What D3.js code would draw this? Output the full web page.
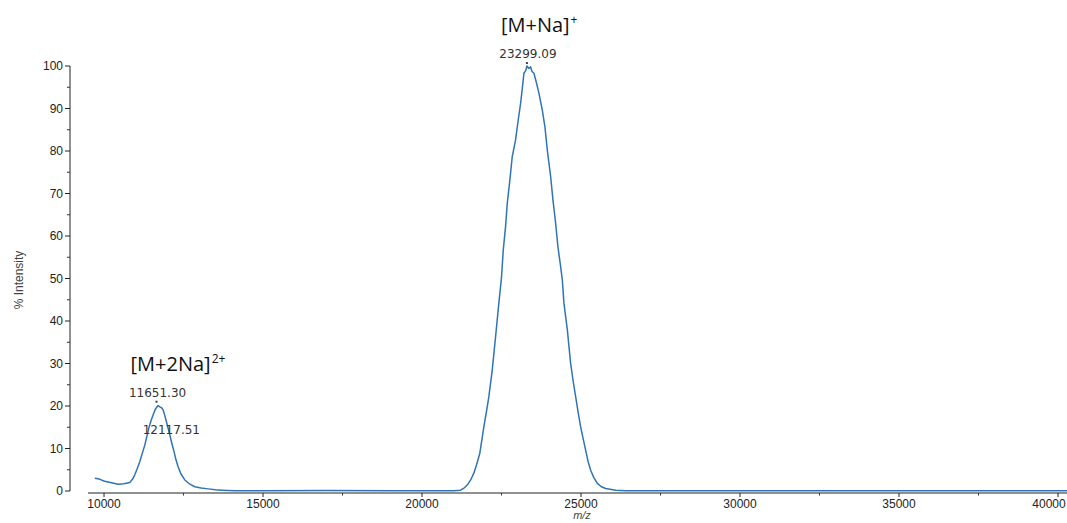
<!DOCTYPE html>
<html lang="en">
<head>
<meta charset="utf-8">
<title>MALDI spectrum</title>
<script src="https://cdn.jsdelivr.net/npm/d3@7"></script>
<style>
  body { margin: 0; background: #fff; }
  svg { display: block; }
</style>
</head>
<body>
<script>

// spectrum (m/z, % intensity)
var mzValues = [9710, 9850, 10020, 10200, 10440, 10620, 10810, 10900, 10967, 11040,
  11124, 11200, 11282, 11408, 11480, 11543, 11600, 11647, 11700, 11754,
  11810, 11858, 11910, 11962, 12069, 12130, 12204, 12260, 12330, 12420,
  12541, 12700, 12856, 13050, 13275, 13500, 13694, 14116, 15000, 17000,
  19000, 20500, 21000, 21211, 21320, 21422, 21530, 21629, 21720, 21818,
  21944, 22020, 22102, 22209, 22313, 22416, 22501, 22555, 22627, 22681,
  22763, 22838, 22942, 23020, 23100, 23150, 23204, 23260, 23299, 23361,
  23415, 23460, 23519, 23600, 23676, 23783, 23865, 23940, 24045, 24117,
  24202, 24274, 24359, 24413, 24463, 24570, 24674, 24750, 24831, 24910,
  24989, 25070, 25146, 25220, 25303, 25400, 25514, 25640, 25776, 26091,
  26406, 28000, 30000, 32000, 35000, 38000, 40283]
var intensityValues = [3.0, 2.8, 2.3, 2.0, 1.6, 1.7, 2.0, 2.8, 3.8, 5.2,
  6.9, 8.8, 10.8, 14.8, 16.6, 17.9, 19.0, 19.6, 20.1, 19.8,
  19.6, 19.1, 17.8, 16.3, 13.2, 11.3, 9.2, 7.4, 5.7, 4.0,
  2.6, 1.6, 1.0, 0.7, 0.5, 0.3, 0.2, 0.05, 0.05, 0.1,
  0.05, 0.05, 0.05, 0.2, 0.7, 1.4, 2.6, 4.2, 6.3, 8.9,
  15.1, 18.4, 22.2, 28.5, 36.3, 44.2, 50.4, 56.7, 62.2, 67.7,
  73.2, 78.7, 82.6, 87.0, 91.2, 94.5, 98.3, 98.9, 100, 99.4,
  99.8, 98.7, 98.3, 96.0, 93.6, 89.6, 85.7, 80.2, 74.0, 68.5,
  63.0, 57.5, 52.8, 49.6, 44.2, 37.9, 30.0, 26.0, 22.2, 18.5,
  15.1, 12.2, 9.6, 7.0, 4.9, 3.2, 1.8, 1.0, 0.6, 0.2,
  0.05, 0.05, 0.05, 0.05, 0.05, 0.05, 0.05]

// peak picks (labels with a marker) and the extra label on the small peak
var peakMz = [23299.09, 11651.30]
var peakIntensity = [100, 20.3]
var extraMz = [12117.51]
var extraIntensity = [12.5]

// ion assignments
var ionText = ["[M+Na]", "[M+2Na]"]
var ionCharge = ["+", "2+"]
var ionMz = [23299.09, 11651.30]

var yTicks = [0, 10, 20, 30, 40, 50, 60, 70, 80, 90, 100]
var xTicks = [10000, 15000, 20000, 25000, 30000, 35000, 40000]

var width = 1067, height = 523

var svg = d3.select("body").append("svg")
  .attr("width", width)
  .attr("height", height)

var x = d3.scaleLinear().domain([9496, 40283]).range([88, 1067])
var y = d3.scaleLinear().domain([0, 100]).range([491, 66])

var axisFont = "'Liberation Sans', Arial, sans-serif"

// y axis, sits left of the x axis start
var yAxisX = 70
var yg = svg.append("g").attr("transform", "translate(" + yAxisX + ",0)")
yg.append("line").attr("y1", y(100)).attr("y2", y(0)).attr("stroke", "#222")
yg.selectAll(".minor").data(d3.range(5, 100, 10)).enter().append("line")
  .attr("x1", -3).attr("x2", 0)
  .attr("y1", function(d){ return y(d) }).attr("y2", function(d){ return y(d) })
  .attr("stroke", "#333")
yg.selectAll(".major").data(yTicks).enter().append("line")
  .attr("x1", -5).attr("x2", 0)
  .attr("y1", function(d){ return y(d) }).attr("y2", function(d){ return y(d) })
  .attr("stroke", "#222")
yg.selectAll("text").data(yTicks).enter().append("text")
  .attr("x", -7).attr("y", function(d){ return y(d) + 4 })
  .attr("text-anchor", "end")
  .attr("font-family", axisFont).attr("font-size", 12).attr("fill", "#222")
  .text(function(d){ return d })

svg.append("text")
  .attr("transform", "translate(23,280) rotate(-90)")
  .attr("text-anchor", "middle")
  .attr("font-family", axisFont).attr("font-size", 12).attr("fill", "#444")
  .text("% Intensity")

// x axis
var xAxisY = 493
var xg = svg.append("g").attr("transform", "translate(0," + xAxisY + ")")
xg.append("line").attr("x1", 88).attr("x2", 1067).attr("stroke", "#222")
xg.selectAll(".minor").data(d3.range(12500, 40283, 5000)).enter().append("line")
  .attr("x1", function(d){ return x(d) }).attr("x2", function(d){ return x(d) })
  .attr("y1", 0).attr("y2", 2.5).attr("stroke", "#333")
xg.selectAll(".major").data(xTicks).enter().append("line")
  .attr("x1", function(d){ return x(d) }).attr("x2", function(d){ return x(d) })
  .attr("y1", 0).attr("y2", 4).attr("stroke", "#222")
xg.selectAll("text").data(xTicks).enter().append("text")
  .attr("x", function(d){ return Math.min(x(d), width - 18) }).attr("y", 15)
  .attr("text-anchor", "middle")
  .attr("font-family", axisFont).attr("font-size", 12).attr("fill", "#222")
  .text(function(d){ return d })

svg.append("text")
  .attr("x", 582).attr("y", 519)
  .attr("text-anchor", "middle")
  .attr("font-family", axisFont).attr("font-size", 11).attr("font-style", "italic").attr("fill", "#444")
  .text("m/z")

// the trace
var points = mzValues.map(function(m, i){ return [m, intensityValues[i]] })
var line = d3.line()
  .x(function(d){ return x(d[0]) })
  .y(function(d){ return y(d[1]) })

svg.append("path").datum(points)
  .attr("fill", "none")
  .attr("stroke", "#2f74b7")
  .attr("stroke-width", 1.5)
  .attr("stroke-linejoin", "round")
  .attr("d", line)

// peak markers and labels
var labelFont = "'DejaVu Sans', sans-serif"
peakMz.forEach(function(m, i){
  var py = y(peakIntensity[i]) - 3
  svg.append("rect").attr("x", x(m) - 1).attr("y", py - 1).attr("width", 2).attr("height", 2).attr("fill", "#444")
  svg.append("text")
    .attr("x", x(m) + 1).attr("y", py - 5)
    .attr("text-anchor", "middle")
    .attr("font-family", labelFont).attr("font-size", 12).attr("fill", "#333")
    .text(d3.format(".2f")(m))
})
extraMz.forEach(function(m, i){
  svg.append("text")
    .attr("x", x(m)).attr("y", y(extraIntensity[i]) - 4)
    .attr("text-anchor", "middle")
    .attr("font-family", labelFont).attr("font-size", 12).attr("fill", "#333")
    .text(d3.format(".2f")(m))
})

// ion labels above the peak labels
var ionFont = "'Open Sans', 'Noto Sans', sans-serif"
ionMz.forEach(function(m, i){
  var ty = y(peakIntensity[i]) - 34
  var t = svg.append("text")
    .attr("x", x(m) - 26).attr("y", ty)
    .attr("font-family", ionFont).attr("font-size", 20).attr("fill", "#111")
  t.append("tspan").text(ionText[i])
  t.append("tspan").attr("dy", -8).attr("font-size", 12).attr("dx", 1).text(ionCharge[i])
})

</script>
</body>
</html>
